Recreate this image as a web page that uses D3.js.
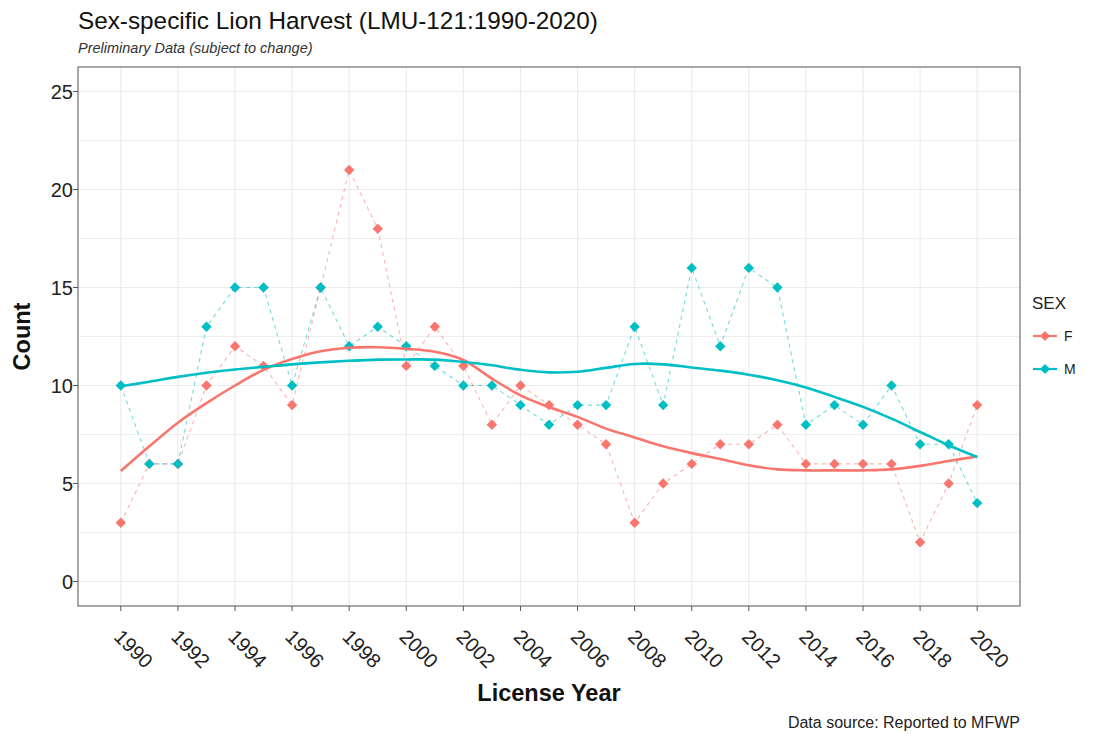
<!DOCTYPE html>
<html>
<head>
<meta charset="utf-8">
<script src="https://cdn.jsdelivr.net/npm/d3@7/dist/d3.min.js"></script>
<style>
  html, body { margin: 0; padding: 0; background: #fff; }
  svg { display: block; font-family: "Liberation Sans", Arial, sans-serif; }
</style>
</head>
<body>
<svg id="chart" width="1105" height="736"></svg>
<script>
const years = d3.range(1990, 2021);
const femaleCounts = [3,6,6,10,12,11,9,15,21,18,11,13,11,8,10,9,8,7,3,5,6,7,7,8,6,6,6,6,2,5,9];
const maleCounts   = [10,6,6,13,15,15,10,15,12,13,12,11,10,10,9,8,9,9,13,9,16,12,16,15,8,9,8,10,7,7,4];
const femaleSmooth = [5.64,6.9,8.1,9.1,10.0,10.8,11.35,11.75,11.93,11.95,11.87,11.72,11.3,10.35,9.5,8.9,8.4,7.8,7.35,6.9,6.55,6.25,5.93,5.72,5.67,5.67,5.67,5.72,5.9,6.15,6.38];
const maleSmooth   = [9.96,10.19,10.44,10.65,10.82,10.95,11.08,11.18,11.26,11.32,11.33,11.32,11.2,11.03,10.8,10.67,10.7,10.9,11.1,11.08,10.92,10.76,10.55,10.27,9.9,9.42,8.91,8.31,7.63,6.95,6.35];
const xTicks = d3.range(1990, 2021, 2);
const yTicks = [0, 5, 10, 15, 20, 25];
const yGrid = d3.range(0, 25.1, 2.5);
const sexes = ["F", "M"];
const colors = {F: "#F8766D", M: "#00BFC4"};

const series = [
  {sex: "F", counts: femaleCounts, smooth: femaleSmooth},
  {sex: "M", counts: maleCounts, smooth: maleSmooth}
];

const svg = d3.select("#chart");
const panel = {left: 78, right: 1020, top: 67, bottom: 606};

const x = d3.scaleLinear().domain([1988.5, 2021.5]).range([panel.left, panel.right]);
const y = d3.scaleLinear().domain([-1.25, 26.25]).range([panel.bottom, panel.top]);

// panel background
svg.append("rect").attr("x", panel.left).attr("y", panel.top)
  .attr("width", panel.right - panel.left).attr("height", panel.bottom - panel.top)
  .attr("fill", "#fff");

// grid
const g = svg.append("g");
g.selectAll(".hg").data(yGrid).join("line")
  .attr("x1", panel.left).attr("x2", panel.right)
  .attr("y1", d => y(d)).attr("y2", d => y(d))
  .attr("stroke", "#ebebeb").attr("stroke-width", d => d % 5 === 0 ? 1.1 : 0.8);
g.selectAll(".vg").data(xTicks).join("line")
  .attr("y1", panel.top).attr("y2", panel.bottom)
  .attr("x1", d => x(d)).attr("x2", d => x(d))
  .attr("stroke", "#ebebeb").attr("stroke-width", 1.1);

// dashed connecting lines
const dashLine = d3.line().x((d, i) => x(years[i])).y(d => y(d));
series.forEach(s => {
  svg.append("path").attr("d", dashLine(s.counts))
    .attr("fill", "none").attr("stroke", colors[s.sex])
    .attr("stroke-opacity", 0.55).attr("stroke-width", 1.1)
    .attr("stroke-dasharray", "4,4");
});

// points
const diamond = r => `M0,${-r}L${r},0L0,${r}L${-r},0Z`;
series.forEach(s => {
  svg.append("g").selectAll("path").data(s.counts).join("path")
    .attr("transform", (d, i) => `translate(${x(years[i])},${y(d)})`)
    .attr("d", diamond(5.2))
    .attr("fill", colors[s.sex]);
});

// smooth lines
const smoothLine = d3.line().x((d, i) => x(years[i])).y(d => y(d)).curve(d3.curveCatmullRom);
series.forEach(s => {
  svg.append("path").attr("d", smoothLine(s.smooth))
    .attr("fill", "none").attr("stroke", colors[s.sex])
    .attr("stroke-width", 2.6);
});

// panel border
svg.append("rect").attr("x", panel.left).attr("y", panel.top)
  .attr("width", panel.right - panel.left).attr("height", panel.bottom - panel.top)
  .attr("fill", "none").attr("stroke", "#7a7a7a").attr("stroke-width", 1.3);

// y axis
const yAxis = svg.append("g");
yAxis.selectAll("line").data(yTicks).join("line")
  .attr("x1", panel.left - 5).attr("x2", panel.left)
  .attr("y1", d => y(d)).attr("y2", d => y(d))
  .attr("stroke", "#555").attr("stroke-width", 1);
yAxis.selectAll("text").data(yTicks).join("text")
  .attr("x", panel.left - 5).attr("y", d => y(d) + 7)
  .attr("text-anchor", "end").attr("font-size", 20).attr("fill", "#222")
  .text(d => d);

// x axis
const xAxis = svg.append("g");
xAxis.selectAll("line").data(xTicks).join("line")
  .attr("x1", d => x(d)).attr("x2", d => x(d))
  .attr("y1", panel.bottom).attr("y2", panel.bottom + 5)
  .attr("stroke", "#555").attr("stroke-width", 1);
xAxis.selectAll("text").data(xTicks).join("text")
  .attr("transform", d => `translate(${x(d) - 8},${638}) rotate(45)`)
  .attr("text-anchor", "start").attr("font-size", 20).attr("fill", "#222")
  .text(d => d);

// axis titles
svg.append("text").attr("x", (panel.left + panel.right) / 2).attr("y", 701)
  .attr("text-anchor", "middle").attr("font-size", 23.5).attr("font-weight", "bold")
  .attr("fill", "#111").text("License Year");
svg.append("text").attr("transform", `translate(30,${(panel.top + panel.bottom) / 2}) rotate(-90)`)
  .attr("text-anchor", "middle").attr("font-size", 23.5).attr("font-weight", "bold")
  .attr("fill", "#111").text("Count");

// title, subtitle, caption
svg.append("text").attr("x", panel.left).attr("y", 29)
  .attr("font-size", 24.3).attr("fill", "#111")
  .text("Sex-specific Lion Harvest (LMU-121:1990-2020)");
svg.append("text").attr("x", panel.left).attr("y", 53)
  .attr("font-size", 14.5).attr("font-style", "italic").attr("fill", "#333")
  .text("Preliminary Data (subject to change)");
svg.append("text").attr("x", panel.right).attr("y", 728)
  .attr("text-anchor", "end").attr("font-size", 16).attr("fill", "#222")
  .text("Data source: Reported to MFWP");

// legend
const leg = svg.append("g");
leg.append("text").attr("x", 1032).attr("y", 309).attr("font-size", 17).attr("fill", "#222").text("SEX");
const legY = d3.scalePoint().domain(sexes).range([336, 369]);
sexes.forEach(sx => {
  const ly = legY(sx);
  leg.append("line").attr("x1", 1033).attr("x2", 1057).attr("y1", ly).attr("y2", ly)
    .attr("stroke", colors[sx]).attr("stroke-width", 2.2);
  leg.append("path").attr("transform", `translate(1045,${ly})`).attr("d", diamond(5))
    .attr("fill", colors[sx]);
  leg.append("text").attr("x", 1064).attr("y", ly + 5).attr("font-size", 14).attr("fill", "#222").text(sx);
});
</script>
</body>
</html>
